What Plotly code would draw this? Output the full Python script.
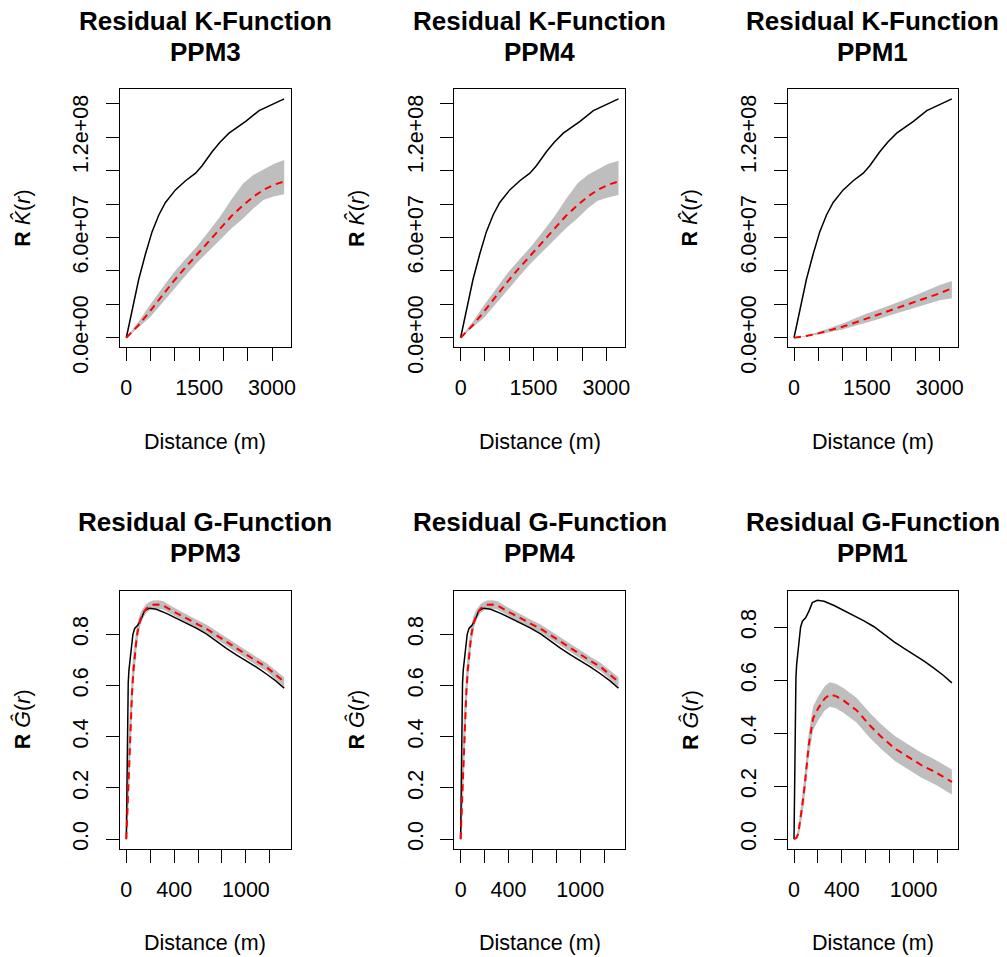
import plotly.graph_objects as go

# ---------------- data ----------------
# Observed residual K (shared by all models)
k_r_obs = [0, 100, 256, 393, 531, 669, 806, 1012, 1219, 1426, 1560, 1770, 1928, 2114, 2300, 2458, 2733, 2950, 3100, 3250]
k_obs = [0, 1.35e7, 3.5e7, 5.0e7, 6.35e7, 7.35e7, 8.1e7, 8.85e7, 9.4e7, 9.85e7, 1.03e8, 1.115e8, 1.17e8,
         1.225e8, 1.265e8, 1.295e8, 1.36e8, 1.39e8, 1.41e8, 1.43e8]

# Theoretical K + envelopes for PPM3 / PPM4
k_r_theo = [0, 250, 481, 720, 963, 1200, 1446, 1690, 1928, 2170, 2409, 2620, 2822, 3030, 3250]
k_theo_ppm3 = [0, 0.75e7, 1.56e7, 2.45e7, 3.35e7, 4.15e7, 4.95e7, 5.75e7, 6.55e7, 7.3e7, 7.95e7, 8.45e7, 8.85e7, 9.15e7, 9.35e7]
k_hi_ppm3 = [0, 0.95e7, 1.95e7, 2.9e7, 3.86e7, 4.65e7, 5.45e7, 6.35e7, 7.25e7, 8.3e7, 9.25e7, 9.75e7, 1.005e8, 1.04e8, 1.064e8]
k_lo_ppm3 = [0, 0.6e7, 1.2e7, 2.0e7, 2.86e7, 3.65e7, 4.46e7, 5.15e7, 5.85e7, 6.55e7, 7.15e7, 7.75e7, 8.25e7, 8.45e7, 8.59e7]
k_theo_ppm4 = [0, 0.75e7, 1.56e7, 2.45e7, 3.35e7, 4.15e7, 4.95e7, 5.75e7, 6.55e7, 7.3e7, 7.95e7, 8.45e7, 8.85e7, 9.15e7, 9.35e7]
k_hi_ppm4 = [0, 0.95e7, 1.95e7, 2.9e7, 3.86e7, 4.65e7, 5.45e7, 6.35e7, 7.25e7, 8.3e7, 9.25e7, 9.75e7, 1.005e8, 1.04e8, 1.06e8]
k_lo_ppm4 = [0, 0.6e7, 1.2e7, 2.0e7, 2.86e7, 3.65e7, 4.46e7, 5.15e7, 5.85e7, 6.55e7, 7.15e7, 7.75e7, 8.2e7, 8.4e7, 8.55e7]

# PPM1 K
k_r_ppm1 = [0, 250, 500, 750, 1000, 1250, 1500, 1750, 2000, 2250, 2500, 2750, 3000, 3250]
k_theo_ppm1 = [0, 0.1e7, 0.26e7, 0.45e7, 0.66e7, 0.9e7, 1.16e7, 1.41e7, 1.66e7, 1.91e7, 2.16e7, 2.41e7, 2.66e7, 2.96e7]
k_hi_ppm1 = [0, 0.13e7, 0.35e7, 0.6e7, 0.85e7, 1.15e7, 1.45e7, 1.7e7, 1.96e7, 2.25e7, 2.55e7, 2.85e7, 3.15e7, 3.4e7]
k_lo_ppm1 = [0, 0.07e7, 0.2e7, 0.33e7, 0.5e7, 0.7e7, 0.9e7, 1.12e7, 1.36e7, 1.58e7, 1.8e7, 2.02e7, 2.25e7, 2.36e7]

# Observed residual G (shared)
g_r_obs = [0, 4, 8, 12, 16, 22, 30, 42, 55, 70, 97, 125, 153, 195, 251, 335, 420, 502, 585, 669, 753, 837,
           920, 1004, 1088, 1172, 1250, 1320]
g_obs = [0, 0.18, 0.40, 0.54, 0.61, 0.66, 0.70, 0.76, 0.80, 0.823, 0.836, 0.861, 0.893, 0.902, 0.898, 0.882,
         0.863, 0.845, 0.824, 0.802, 0.773, 0.745, 0.72, 0.697, 0.672, 0.645, 0.618, 0.590]

# PPM3 / PPM4 G
g_r_theo = [0, 8, 16.7, 25, 36, 48, 61, 75, 89, 105, 120, 145, 167, 195, 223, 265, 306, 400, 502, 585, 669,
            753, 837, 920, 1004, 1088, 1172, 1250, 1320]
g_theo_ppm3 = [0, 0.09, 0.21, 0.33, 0.471, 0.575, 0.666, 0.74, 0.796, 0.835, 0.861, 0.885, 0.900, 0.910, 0.915,
               0.916, 0.913, 0.888, 0.861, 0.842, 0.822, 0.796, 0.770, 0.744, 0.718, 0.695, 0.672, 0.642, 0.614]
g_hi_ppm3 = [0, 0.21, 0.35, 0.46, 0.58, 0.665, 0.736, 0.79, 0.836, 0.865, 0.886, 0.905, 0.918, 0.927, 0.932,
             0.933, 0.930, 0.904, 0.877, 0.858, 0.838, 0.812, 0.786, 0.760, 0.734, 0.711, 0.688, 0.659, 0.632]
g_lo_ppm3 = [0, 0.03, 0.11, 0.22, 0.371, 0.495, 0.606, 0.695, 0.761, 0.807, 0.839, 0.867, 0.883, 0.894, 0.899,
             0.900, 0.897, 0.872, 0.845, 0.826, 0.806, 0.780, 0.754, 0.728, 0.702, 0.679, 0.656, 0.625, 0.596]
g_theo_ppm4 = list(g_theo_ppm3)
g_hi_ppm4 = list(g_hi_ppm3)
g_lo_ppm4 = list(g_lo_ppm3)

# PPM1 G
g_r_ppm1 = [0, 20, 35, 48, 70, 90, 123, 159, 201, 257, 299, 350, 410, 522, 633, 731, 843, 954, 1066, 1177, 1250, 1320]
g_theo_ppm1 = [0, 0.005, 0.02, 0.059, 0.13, 0.204, 0.355, 0.455, 0.493, 0.531, 0.546, 0.54, 0.525, 0.487, 0.430,
               0.386, 0.342, 0.311, 0.279, 0.254, 0.235, 0.216]
g_hi_ppm1 = [0, 0.012, 0.04, 0.09, 0.17, 0.25, 0.40, 0.50, 0.538, 0.577, 0.592, 0.587, 0.572, 0.534, 0.477,
             0.433, 0.389, 0.358, 0.326, 0.301, 0.282, 0.263]
g_lo_ppm1 = [0, 0.0, 0.005, 0.03, 0.09, 0.16, 0.31, 0.41, 0.448, 0.486, 0.50, 0.494, 0.478, 0.44, 0.383,
             0.339, 0.295, 0.264, 0.232, 0.207, 0.188, 0.169]

models = ["PPM3", "PPM4", "PPM1"]

k_xticks = [0, 500, 1000, 1500, 2000, 2500, 3000]
k_xtext = ["0", "", "", "1500", "", "", "3000"]
k_yticks = [0, 2e7, 4e7, 6e7, 8e7, 1e8, 1.2e8, 1.4e8]
k_ytext = ["0.0e+00", "", "", "6.0e+07", "", "", "1.2e+08", ""]
g_xticks = [0, 200, 400, 600, 800, 1000, 1200]
g_xtext = ["0", "", "400", "", "", "1000", ""]
g_yticks = [0, 0.2, 0.4, 0.6, 0.8]
g_ytext = ["0.0", "0.2", "0.4", "0.6", "0.8"]

# ---------------- layout helpers ----------------
W, H = 1007, 957
FONT = "Liberation Sans, Arial, sans-serif"
col_left = [120, 454.3, 787.7]
box_w = 170.5
rows = [(89.3, 347.3), (590.7, 848.7)]


def px(xp):
    return xp / W


def py(yp):
    return 1 - yp / H


def rng(vals_list):
    lo = min(min(v) for v in vals_list)
    hi = max(max(v) for v in vals_list)
    d = hi - lo
    return [lo - 0.04 * d, hi + 0.04 * d]


fig = go.Figure()
layout = dict(width=W, height=H, autosize=False, margin=dict(l=0, r=0, t=0, b=0, pad=0), paper_bgcolor="white",
              plot_bgcolor="white", showlegend=False, template="none",
              font=dict(family=FONT, color="black"))
annotations = []

panels = []
k_sets = [(k_r_theo, k_theo_ppm3, k_hi_ppm3, k_lo_ppm3),
          (k_r_theo, k_theo_ppm4, k_hi_ppm4, k_lo_ppm4),
          (k_r_ppm1, k_theo_ppm1, k_hi_ppm1, k_lo_ppm1)]
g_sets = [(g_r_theo, g_theo_ppm3, g_hi_ppm3, g_lo_ppm3),
          (g_r_theo, g_theo_ppm4, g_hi_ppm4, g_lo_ppm4),
          (g_r_ppm1, g_theo_ppm1, g_hi_ppm1, g_lo_ppm1)]
for c in range(3):
    panels.append(dict(row=0, col=c, title="Residual K-Function", obs=(k_r_obs, k_obs), theo=k_sets[c],
                       xt=(k_xticks, k_xtext), yt=(k_yticks, k_ytext),
                       ylab="<b>R</b> <i>K\u0302</i>(<i>r</i>)"))
for c in range(3):
    panels.append(dict(row=1, col=c, title="Residual G-Function", obs=(g_r_obs, g_obs), theo=g_sets[c],
                       xt=(g_xticks, g_xtext), yt=(g_yticks, g_ytext),
                       ylab="<b>R</b> <i>G\u0302</i>(<i>r</i>)"))

for i, p in enumerate(panels, start=1):
    xa = "x" if i == 1 else f"x{i}"
    ya = "y" if i == 1 else f"y{i}"
    r_obs, v_obs = p["obs"]
    r_t, v_t, v_hi, v_lo = p["theo"]
    # envelope
    fig.add_trace(go.Scatter(x=r_t, y=v_lo, mode="lines", line=dict(width=0, color="#BEBEBE"),
                             xaxis=xa, yaxis=ya, hoverinfo="skip"))
    fig.add_trace(go.Scatter(x=r_t, y=v_hi, mode="lines", line=dict(width=0, color="#BEBEBE"),
                             fill="tonexty", fillcolor="#BEBEBE", xaxis=xa, yaxis=ya, hoverinfo="skip"))
    fig.add_trace(go.Scatter(x=r_obs, y=v_obs, mode="lines", line=dict(color="black", width=1.5),
                             xaxis=xa, yaxis=ya))
    fig.add_trace(go.Scatter(x=r_t, y=v_t, mode="lines", line=dict(color="#FF0000", width=2, dash="7px,5px"),
                             xaxis=xa, yaxis=ya))

    left = col_left[p["col"]]
    top, bot = rows[p["row"]]
    xr = rng([r_obs, r_t])
    yr = rng([v_obs, v_hi, v_lo])
    axis_common = dict(showgrid=False, zeroline=False, showline=True, linecolor="black", linewidth=1,
                       mirror=True, ticks="outside", ticklen=13, tickwidth=1, tickcolor="black",
                       tickfont=dict(size=21.5, family=FONT, color="black"), fixedrange=True,
                       automargin=False)
    layout["xaxis" if i == 1 else f"xaxis{i}"] = dict(
        axis_common, domain=[px(left), px(left + box_w)], range=xr, anchor=ya,
        tickmode="array", tickvals=p["xt"][0], ticktext=p["xt"][1], ticklabelstandoff=8)
    layout["yaxis" if i == 1 else f"yaxis{i}"] = dict(
        axis_common, domain=[py(bot), py(top)], range=yr, anchor=xa,
        tickmode="array", tickvals=p["yt"][0], ticktext=p["yt"][1], tickangle=-90, ticklabelstandoff=9)

    cx = left + box_w / 2
    base = 0 if p["row"] == 0 else 501
    annotations.append(dict(text="<b>" + p["title"] + "</b>", x=px(cx), y=py(base + 21), xref="paper",
                            yref="paper", showarrow=False, xanchor="center", yanchor="middle",
                            font=dict(size=26, family=FONT, color="black")))
    annotations.append(dict(text="<b>" + models[p["col"]] + "</b>", x=px(cx), y=py(base + 52), xref="paper",
                            yref="paper", showarrow=False, xanchor="center", yanchor="middle",
                            font=dict(size=26, family=FONT, color="black")))
    annotations.append(dict(text="Distance (m)", x=px(cx), y=py(442 if p["row"] == 0 else 943),
                            xref="paper", yref="paper", showarrow=False, xanchor="center", yanchor="middle",
                            font=dict(size=21.5, family=FONT, color="black")))
    annotations.append(dict(text=p["ylab"], x=px(left - 97.5), y=py((top + bot) / 2), xref="paper",
                            yref="paper", showarrow=False, xanchor="center", yanchor="middle", textangle=-90,
                            font=dict(size=21.5, family=FONT, color="black")))

layout["annotations"] = annotations
fig.update_layout(**layout)
fig.write_html("out.html")
